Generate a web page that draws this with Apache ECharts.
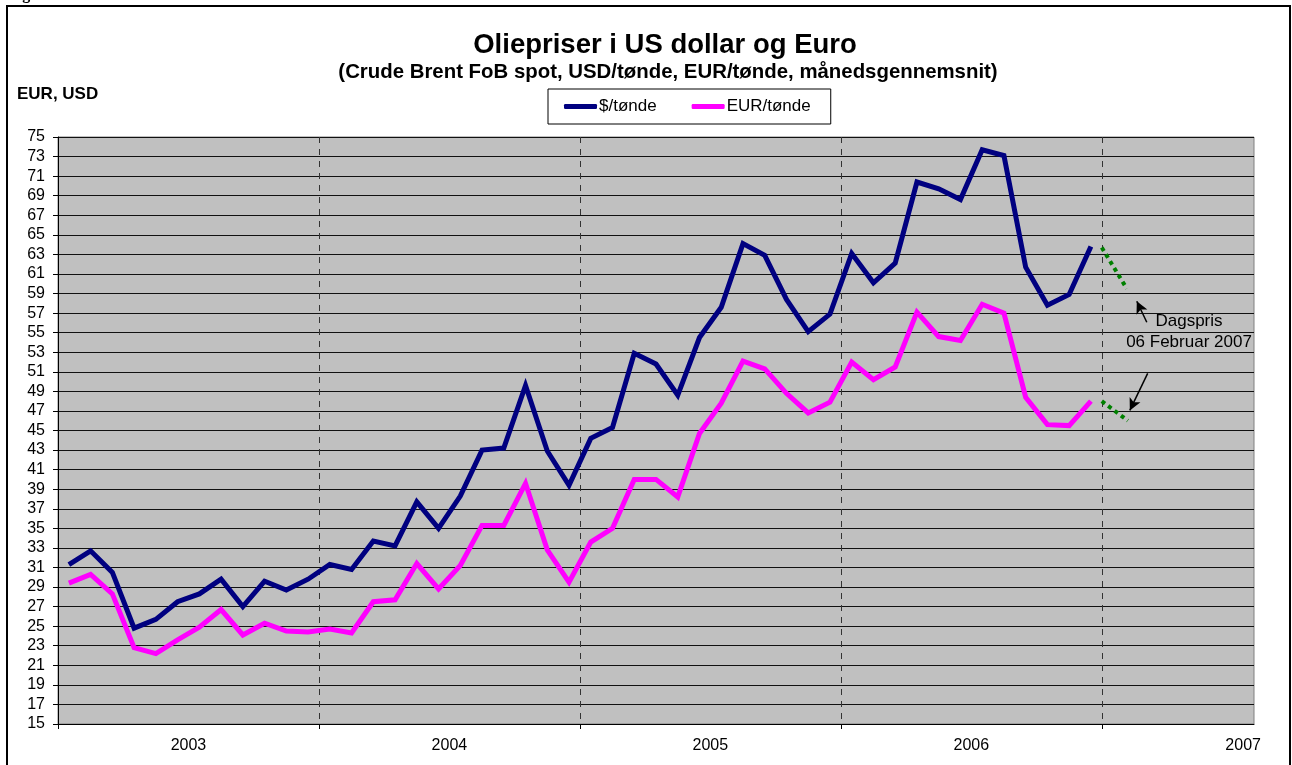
<!DOCTYPE html>
<html>
<head>
<meta charset="utf-8">
<title>Oliepriser i US dollar og Euro</title>
<script src="https://cdn.jsdelivr.net/npm/echarts@6/dist/echarts.min.js"></script>
<style>
  html, body { margin: 0; padding: 0; background: #fff; }
  #chart { width: 1292px; height: 765px; }
</style>
</head>
<body>
<div id="chart"></div>
<script>
// maanedsgennemsnit jan 2003 - dec 2006
var years = ['2003', '2004', '2005', '2006', '2007'];
var usd = [31.3, 32.7, 30.5, 24.8, 25.7, 27.5, 28.3, 29.8, 27.0, 29.6, 28.7, 29.8,
           31.3, 30.8, 33.7, 33.2, 37.7, 35.0, 38.3, 43.0, 43.2, 49.6, 42.9, 39.4,
           44.2, 45.3, 52.9, 51.8, 48.6, 54.5, 57.6, 64.1, 62.9, 58.4, 55.1, 56.9,
           63.1, 60.1, 62.1, 70.4, 69.7, 68.6, 73.7, 73.1, 61.7, 57.8, 58.9, 63.8];
var eur = [29.4, 30.3, 28.3, 22.8, 22.2, 23.6, 24.9, 26.7, 24.1, 25.3, 24.5, 24.4,
           24.7, 24.3, 27.5, 27.7, 31.4, 28.8, 31.2, 35.3, 35.3, 39.6, 32.8, 29.5,
           33.6, 35.0, 40.0, 40.0, 38.2, 44.7, 47.8, 52.1, 51.3, 48.8, 46.8, 47.9,
           52.0, 50.2, 51.5, 57.1, 54.6, 54.2, 57.9, 57.0, 48.4, 45.6, 45.5, 48.0];
// dagspris 06 feb 2007 (stiplet)
var usdSpot = [[48, 63.7], [49.15, 59.5]];
var eurSpot = [[48, 48.0], [49.2, 46.0]];
var yTicks = [15, 17, 19, 21, 23, 25, 27, 29, 31, 33, 35, 37, 39, 41, 43, 45,
              47, 49, 51, 53, 55, 57, 59, 61, 63, 65, 67, 69, 71, 73, 75];

var FONT = '"Liberation Sans", Arial, sans-serif';

function monthly(arr) {
    return arr.map(function (v, i) { return [i + 0.5, v]; });
}

var chart = echarts.init(document.getElementById('chart'));
chart.setOption({
    animation: false,
    textStyle: { fontFamily: FONT, color: '#000' },
    graphic: [
        { type: 'rect', shape: { x: 7, y: 6, width: 1283, height: 800 },
          style: { fill: 'none', stroke: '#000', lineWidth: 2 }, silent: true },
        { type: 'text', x: 8, y: 3,
          style: { text: 'Fig.', font: 'bold 16px "Liberation Serif", serif', fill: '#000',
                   textVerticalAlign: 'bottom' } },
        { type: 'text', x: 665, y: 45,
          style: { text: 'Oliepriser i US dollar og Euro', font: 'bold 27.5px ' + FONT, fill: '#000',
                   textAlign: 'center', textVerticalAlign: 'middle' } },
        { type: 'text', x: 668, y: 72,
          style: { text: '(Crude Brent FoB spot, USD/tønde, EUR/tønde, månedsgennemsnit)',
                   font: 'bold 20.4px ' + FONT, fill: '#000',
                   textAlign: 'center', textVerticalAlign: 'middle' } },
        { type: 'text', x: 17, y: 94,
          style: { text: 'EUR, USD', font: 'bold 17px ' + FONT, fill: '#000',
                   textVerticalAlign: 'middle' } },
        { type: 'text', x: 1189, y: 321, z: 100,
          style: { text: 'Dagspris', font: '17px ' + FONT, fill: '#000',
                   textAlign: 'center', textVerticalAlign: 'middle' } },
        { type: 'text', x: 1189, y: 342, z: 100,
          style: { text: '06 Februar 2007', font: '17px ' + FONT, fill: '#000',
                   textAlign: 'center', textVerticalAlign: 'middle' } }
    ],
    legend: {
        left: 548,
        top: 89,
        padding: [9, 20, 9, 16],
        itemGap: 35,
        itemWidth: 33,
        itemHeight: 5,
        icon: 'roundRect',
        borderColor: '#000',
        borderWidth: 1,
        backgroundColor: '#fff',
        data: ['$/tønde', 'EUR/tønde'],
        textStyle: { fontSize: 17, fontFamily: FONT, color: '#000', padding: [0, 0, 0, -3] }
    },
    grid: {
        left: 58, right: 38, top: 137, bottom: 41,
        show: true,
        backgroundColor: '#C0C0C0',
        borderColor: '#808080',
        borderWidth: 1
    },
    xAxis: {
        type: 'value',
        min: 0,
        max: 55,
        axisLine: { lineStyle: { color: '#000', width: 1 } },
        axisTick: { show: true, length: 5, customValues: [0, 12, 24, 36, 48],
                    lineStyle: { color: '#000' } },
        axisLabel: {
            customValues: [6, 18, 30, 42, 54.5],
            formatter: function (v) { return years[Math.floor(v / 12)]; },
            fontSize: 16, color: '#000', margin: 14
        },
        splitLine: { show: true, lineStyle: { color: '#333', width: 1, type: [6, 6] } }
    },
    yAxis: {
        type: 'value',
        min: 15,
        max: 75,
        axisLine: { show: true, lineStyle: { color: '#000', width: 1 } },
        axisTick: { show: true, length: 5, customValues: yTicks, lineStyle: { color: '#000' } },
        axisLabel: { customValues: yTicks, fontSize: 16, color: '#000', margin: 13 },
        splitLine: { show: true, lineStyle: { color: '#111', width: 1 } }
    },
    series: [
        {
            name: '$/tønde',
            type: 'line',
            data: monthly(usd),
            symbol: 'none',
            color: '#000080',
            lineStyle: { color: '#000080', width: 5, join: 'miter' },
            z: 3
        },
        {
            name: 'EUR/tønde',
            type: 'line',
            data: monthly(eur),
            symbol: 'none',
            color: '#FF00FF',
            lineStyle: { color: '#FF00FF', width: 5, join: 'miter' },
            z: 3
        },
        {
            name: 'usdSpot',
            type: 'line',
            data: usdSpot,
            symbol: 'none',
            lineStyle: { color: '#008000', width: 4, type: [4, 4] },
            z: 4,
            markLine: {
                silent: true,
                symbol: ['none', 'arrow'],
                symbolSize: [9, 12],
                label: { show: false },
                lineStyle: { color: '#000', width: 1.5, type: 'solid' },
                data: [
                    [{ coord: [50.07, 56.06] }, { coord: [49.61, 58.21] }],
                    [{ coord: [50.11, 50.84] }, { coord: [49.29, 47.05] }]
                ]
            }
        },
        {
            name: 'eurSpot',
            type: 'line',
            data: eurSpot,
            symbol: 'none',
            lineStyle: { color: '#008000', width: 4, type: [4, 4] },
            z: 4
        }
    ]
});
</script>
</body>
</html>
